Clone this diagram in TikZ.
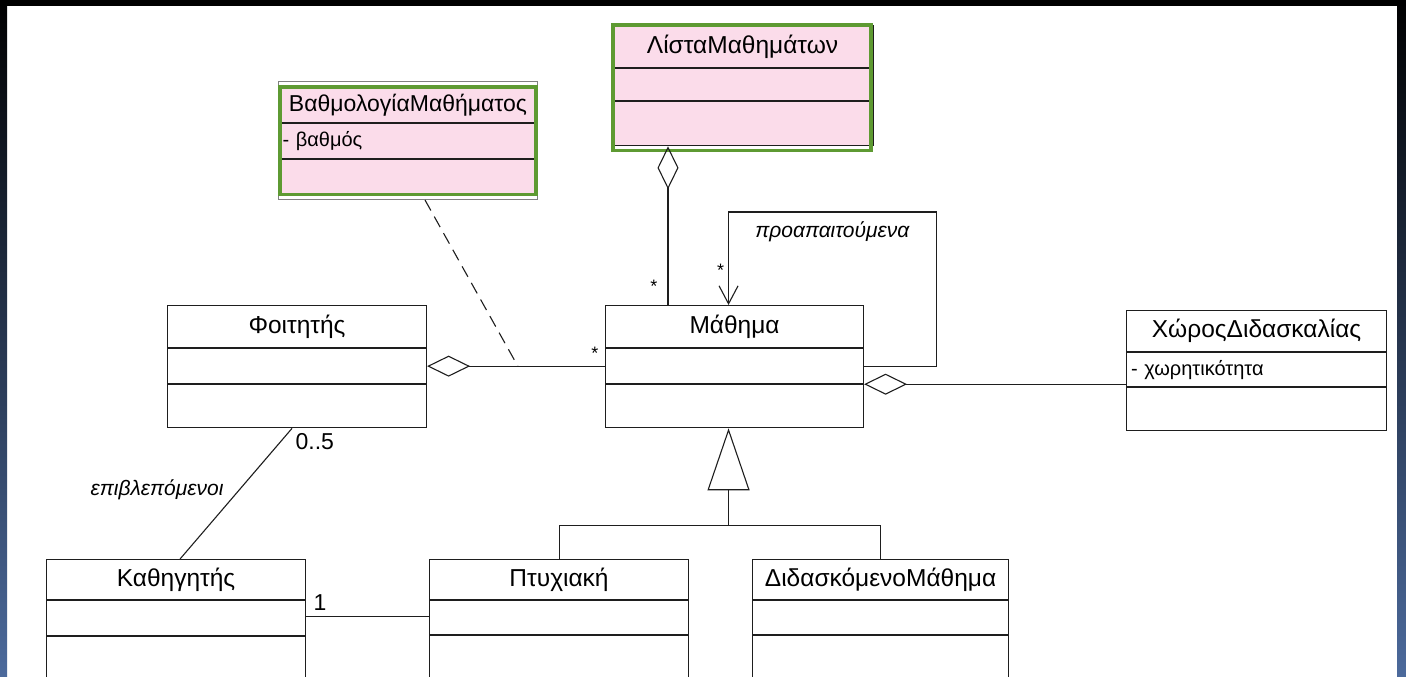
\documentclass[tikz,border=0pt]{standalone}
\usepackage{fontspec}
\setmainfont{Liberation Sans}
\usetikzlibrary{arrows.meta, positioning, fit}

\definecolor{umlline}{HTML}{1E1E1E}
\definecolor{notepink}{HTML}{FBDCEA}
\definecolor{hlgreen}{HTML}{5E9A32}
\definecolor{edgeblue}{HTML}{4C6A9C}

\begin{document}
\begin{tikzpicture}[
    x=1pt, y=-1pt,
    box/.style={draw=umlline, line width=1.1pt, inner sep=0pt, minimum width=259pt},
    head/.style={box, minimum height=42pt, font=\fontsize{24.5}{28}\selectfont},
    attr/.style={box, minimum height=35pt, text width=251pt, align=left, font=\fontsize{20}{24}\selectfont},
    ops/.style={box, minimum height=43pt},
    hilite/.style={draw=hlgreen, line width=3.5pt, inner sep=0pt},
    assoc/.style={draw=umlline, line width=1.1pt},
    agg/.style={assoc, {Diamond[open, length=43pt, width=21pt]}-},
    nav/.style={assoc, -{Straight Barb[length=18pt, width=19pt]}},
    gen/.style={assoc, -{Triangle[open, length=62pt, width=42pt]}},
    star/.style={font=\fontsize{18}{18}\selectfont, inner sep=1pt},
    mult/.style={font=\fontsize{23}{23}\selectfont, inner sep=3pt},
    role/.style={font=\itshape\fontsize{21}{21}\selectfont}
]
    % frame
    \useasboundingbox (0,0) rectangle (1406,677);
    \clip (0,0) rectangle (1406,677);
    \fill[white] (0,0) rectangle (1406,677);
    \shade[top color=black, bottom color=edgeblue] (0,0) rectangle (7,677);
    \shade[top color=black, bottom color=edgeblue] (1397,0) rectangle (1406,677);
    \fill[black] (0,0) rectangle (1406,6);

    % classes
    \node[head, anchor=north west] (fo-h) at (167,305) {Φοιτητής};
    \node[attr, below=0pt of fo-h] (fo-a) {};
    \node[ops, below=0pt of fo-a] (fo-o) {};

    \node[head, anchor=north west, minimum width=258pt] (ma-h) at (605,305) {Μάθημα};
    \node[attr, below=0pt of ma-h, minimum width=258pt] (ma-a) {};
    \node[ops, below=0pt of ma-a, minimum width=258pt] (ma-o) {};

    \node[head, anchor=north west, minimum width=260pt, minimum height=41pt] (xo-h) at (1126,310) {ΧώροςΔιδασκαλίας};
    \node[attr, below=0pt of xo-h, minimum width=260pt, minimum height=34pt] (xo-a) {- χωρητικότητα};
    \node[ops, below=0pt of xo-a, minimum width=260pt] (xo-o) {};

    \node[head, anchor=north west, minimum height=40pt] (ka-h) at (46,559) {Καθηγητής};
    \node[attr, below=0pt of ka-h] (ka-a) {};
    \node[ops, below=0pt of ka-a, minimum height=60pt] (ka-o) {};

    \node[head, anchor=north west, minimum height=40pt] (pt-h) at (429,559) {Πτυχιακή};
    \node[attr, below=0pt of pt-h, minimum height=34pt] (pt-a) {};
    \node[ops, below=0pt of pt-a, minimum height=60pt] (pt-o) {};

    \node[head, anchor=north west, minimum width=256pt, minimum height=40pt] (di-h) at (752,559) {ΔιδασκόμενοΜάθημα};
    \node[attr, below=0pt of di-h, minimum width=256pt, minimum height=34pt] (di-a) {};
    \node[ops, below=0pt of di-a, minimum width=256pt, minimum height=60pt] (di-o) {};

    % highlighted classes
    \node[draw=gray, line width=1pt, fill=white, minimum width=259pt, minimum height=118pt, anchor=north west] (va-frame) at (278,81) {};
    \node[head, fill=notepink, anchor=north west, minimum width=255pt, minimum height=35pt, font=\fontsize{23}{26}\selectfont] (va-h) at (280,87) {ΒαθμολογίαΜαθήματος};
    \node[attr, fill=notepink, below=0pt of va-h, minimum width=255pt] (va-a) {- βαθμός};
    \node[ops, fill=notepink, below=0pt of va-a, minimum width=255pt, minimum height=34pt] (va-o) {};
    \node[hilite, fit=(va-h)(va-o)] (va-hl) {};

    \node[head, fill=notepink, anchor=north west, minimum width=262pt] (li-h) at (611,25) {ΛίσταΜαθημάτων};
    \node[attr, fill=notepink, below=0pt of li-h, minimum width=262pt, minimum height=32pt] (li-a) {};
    \node[ops, fill=notepink, below=0pt of li-a, minimum width=262pt, minimum height=44pt] (li-o) {};
    \draw[hilite] ([xshift=2pt]li-h.north west) rectangle ([xshift=-3pt, yshift=-4pt]li-o.south east);

    % connectors
    \coordinate (li-end) at ([xshift=63pt]ma-h.north west);
    \draw[agg] (li-o.south -| li-end) -- node[star, pos=0.88, left=9pt] {*} (li-end);

    \draw[agg] (fo-a.east) -- node[star, pos=1, above left=5pt and 5pt] {*} (ma-a.west);
    \path (fo-a.east) -- (ma-a.west) coordinate[pos=0.51] (grade-pt);
    \draw[assoc, dash pattern=on 12pt off 7pt] ([xshift=17pt]va-frame.south) -- (grade-pt);

    \draw[nav] (ma-a.east) -- ++(72,0) |- node[role, pos=0.75, below=6pt] {προαπαιτούμενα}
        ([xshift=-6pt, yshift=93pt]ma-h.north) -- node[star, pos=0.63, left=3pt] {*} ([xshift=-6pt]ma-h.north);

    \draw[agg] (ma-a.south east) -- (ma-a.south east -| xo-a.west);

    \coordinate (tree) at ([xshift=-6pt, yshift=-97pt]ma-o.south);
    \draw[gen] (tree) -- ([xshift=-6pt]ma-o.south);
    \draw[assoc] (pt-h.north) |- (tree) -| (di-h.north);

    \draw[assoc] ([xshift=-5pt]fo-o.south) -- node[mult, pos=0, anchor=north west, yshift=-2pt] {0..5}
        node[role, pos=0.47, left=12pt] {επιβλεπόμενοι} ([xshift=4pt]ka-h.north);
    \draw[assoc] ([yshift=2pt]ka-a.east) -- node[mult, pos=0, anchor=south west, xshift=4pt, yshift=2pt] {1} ([yshift=2pt]ka-a.east -| pt-a.west);
\end{tikzpicture}
\end{document}
